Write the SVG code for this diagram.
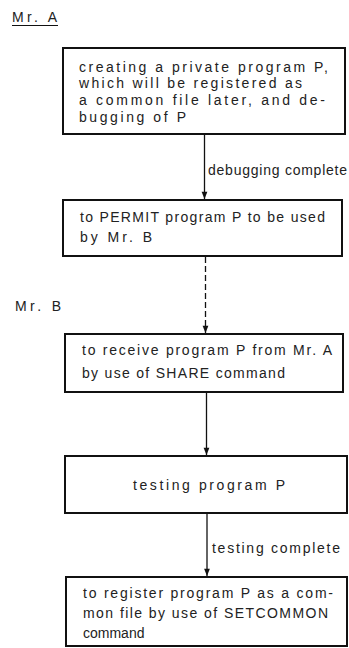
<svg xmlns="http://www.w3.org/2000/svg" width="349" height="648" viewBox="0 0 349 648">
  <defs>
    <marker id="arrow" viewBox="0 0 8 10" refX="8" refY="5" markerWidth="8" markerHeight="9" markerUnits="userSpaceOnUse" orient="auto">
      <path d="M0,1.8 L8,5 L0,8.2 Z" fill="#111"/>
    </marker>
    <style>
      text { font-family: "Liberation Sans", Arial, sans-serif; font-size: 14px; fill: #222; }
      .box { fill: #fff; stroke: #111; stroke-width: 2; }
      .conn { stroke: #111; stroke-width: 1.3; fill: none; }
      .dash { stroke-dasharray: 6 3; }
    </style>
  </defs>
  <rect width="349" height="648" fill="#fff"/>

  <!-- actor headings -->
  <g id="actor-a">
    <text x="12" y="22" textLength="45" lengthAdjust="spacing">Mr. A</text>
    <line x1="12" y1="25.5" x2="58" y2="25.5" stroke="#111" stroke-width="1"/>
  </g>
  <g id="actor-b">
    <text x="15" y="311" textLength="46" lengthAdjust="spacing">Mr. B</text>
  </g>

  <!-- connectors -->
  <g id="connectors">
    <line class="conn" x1="204.5" y1="135" x2="204.5" y2="199" marker-end="url(#arrow)"/>
    <text x="208" y="175" textLength="139" lengthAdjust="spacing">debugging complete</text>
    <line class="conn dash" x1="205.5" y1="257" x2="205.5" y2="333" marker-end="url(#arrow)"/>
    <line class="conn" x1="206.5" y1="392" x2="206.5" y2="455" marker-end="url(#arrow)"/>
    <line class="conn" x1="207" y1="513" x2="207" y2="576" marker-end="url(#arrow)"/>
    <text x="212" y="553" textLength="128" lengthAdjust="spacing">testing complete</text>
  </g>

  <!-- process steps -->
  <g id="create-program">
    <rect class="box" x="63" y="48" width="282" height="86"/>
    <text x="79" y="72" textLength="249" lengthAdjust="spacing">creating a private program P,</text>
    <text x="79" y="88" textLength="223" lengthAdjust="spacing">which will be registered as</text>
    <text x="79" y="105" textLength="246" lengthAdjust="spacing">a common file later, and de-</text>
    <text x="79" y="122" textLength="107" lengthAdjust="spacing">bugging of P</text>
  </g>

  <g id="permit-program">
    <rect class="box" x="63" y="200" width="279" height="56"/>
    <text x="80" y="222" textLength="245" lengthAdjust="spacing">to PERMIT program P to be used</text>
    <text x="80" y="242" textLength="72" lengthAdjust="spacing">by Mr. B</text>
  </g>

  <g id="receive-program">
    <rect class="box" x="65" y="334" width="278" height="58"/>
    <text x="82" y="355" textLength="250" lengthAdjust="spacing">to receive program P from Mr. A</text>
    <text x="82" y="378" textLength="203" lengthAdjust="spacing">by use of SHARE command</text>
  </g>

  <g id="test-program">
    <rect class="box" x="65" y="456" width="282" height="57"/>
    <text x="133" y="490" textLength="152" lengthAdjust="spacing">testing program P</text>
  </g>

  <g id="register-program">
    <rect class="box" x="66" y="577" width="281" height="69"/>
    <text x="83" y="598" textLength="250" lengthAdjust="spacing">to register program P as a com-</text>
    <text x="83" y="618" textLength="245" lengthAdjust="spacing">mon file by use of SETCOMMON</text>
    <text x="83" y="638">command</text>
  </g>
</svg>
